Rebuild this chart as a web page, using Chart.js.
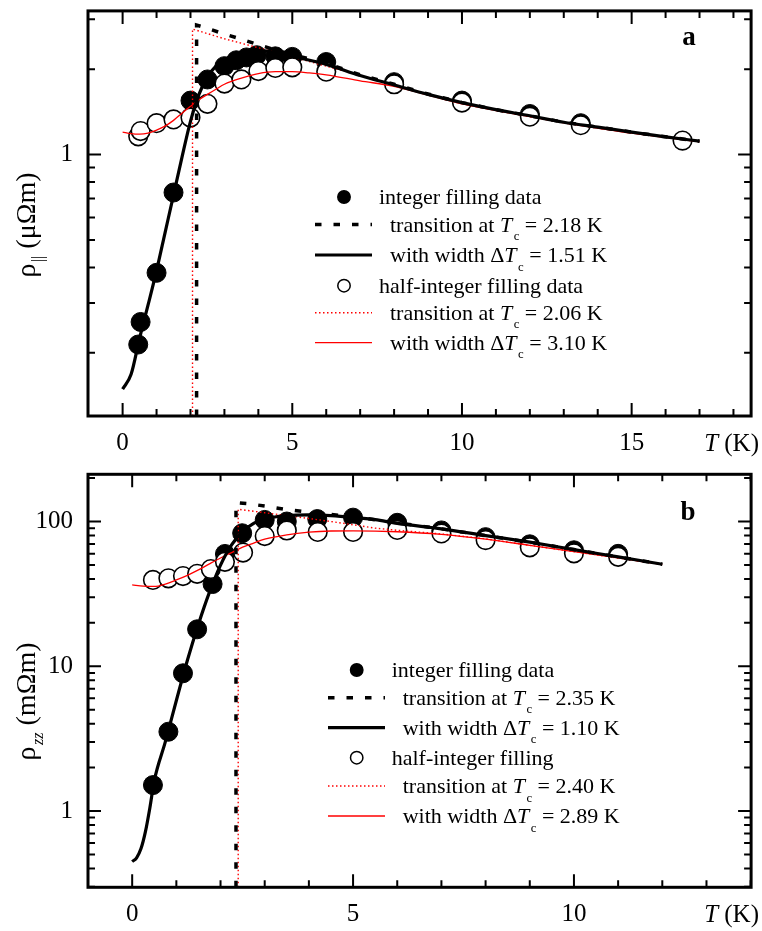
<!DOCTYPE html>
<html>
<head>
<meta charset="utf-8">
<script src="https://cdn.jsdelivr.net/npm/chart.js@4.4.1/dist/chart.umd.min.js"></script>
<style>
  html, body { margin: 0; padding: 0; background: #fff; }
  canvas { position: absolute; left: 0; }
  #chartA { top: 0; }
  #chartB { top: 462px; }
</style>
</head>
<body>
<canvas id="chartA" width="762" height="462"></canvas>
<canvas id="chartB" width="762" height="469"></canvas>
<script>
/* ===== panel a : rho_par (µΩm) vs T (K) ===== */
const aIntT    = [0.46, 0.53, 1.0, 1.5, 2.0, 2.5, 3.0, 3.35, 3.65, 3.95, 4.5, 5.0, 6.0, 8, 10, 12, 13.5];
const aIntRho  = [0.214, 0.257, 0.383, 0.735, 1.55, 1.84, 2.05, 2.15, 2.20, 2.24, 2.22, 2.21, 2.12, 1.80, 1.55, 1.39, 1.29];
const aHalfT   = [0.46, 0.53, 1.0, 1.5, 2.0, 2.5, 3.0, 3.5, 4.0, 4.5, 5.0, 6.0, 8, 10, 12, 13.5, 16.5];
const aHalfRho = [1.16, 1.21, 1.29, 1.33, 1.35, 1.51, 1.78, 1.84, 1.97, 2.02, 2.03, 1.96, 1.77, 1.525, 1.36, 1.27, 1.12];

// integer filling: step at Tc and fit with width
const aIntStepT   = [2.18, 2.18, 2.4, 3.0, 3.5, 4.0, 4.5, 5.0, 6, 7, 8, 9, 10, 11, 12, 13, 14, 15, 16, 17];
const aIntStepRho = [0.1198, 2.86, 2.81, 2.66, 2.55, 2.44, 2.34, 2.25, 2.10, 1.91, 1.77, 1.635, 1.525, 1.44, 1.37, 1.30, 1.25, 1.20, 1.155, 1.115];
const aIntFitT    = [0, 0.25, 0.5, 0.75, 1.0, 1.25, 1.5, 1.75, 2.0, 2.25, 2.5, 2.75, 3.0, 3.5, 4.0, 4.5, 5.0, 6, 7, 8, 9, 10, 11, 12, 13, 14, 15, 16, 17];
const aIntFitRho  = [0.149, 0.168, 0.225, 0.295, 0.39, 0.53, 0.72, 0.98, 1.31, 1.63, 1.88, 2.05, 2.16, 2.29, 2.33, 2.29, 2.22, 2.08, 1.90, 1.76, 1.63, 1.525, 1.44, 1.37, 1.30, 1.25, 1.20, 1.155, 1.115];

// half-integer filling: step at Tc and fit with width
const aHalfStepT   = [2.06, 2.06, 3.0, 4.0, 5.0, 6.0, 7.0, 8, 10, 12, 14, 17];
const aHalfStepRho = [0.1198, 2.77, 2.56, 2.38, 2.21, 2.05, 1.90, 1.76, 1.51, 1.36, 1.24, 1.11];
const aHalfFitT    = [0, 0.25, 0.5, 0.75, 1.0, 1.25, 1.5, 1.75, 2.0, 2.25, 2.5, 2.75, 3.0, 3.5, 4.0, 4.5, 5.0, 5.5, 6, 7, 8, 9, 10, 11, 12, 13, 14, 15, 16, 17];
const aHalfFitRho  = [1.20, 1.185, 1.18, 1.19, 1.22, 1.26, 1.32, 1.40, 1.48, 1.56, 1.63, 1.70, 1.77, 1.86, 1.93, 1.96, 1.96, 1.94, 1.91, 1.82, 1.74, 1.62, 1.51, 1.43, 1.36, 1.295, 1.24, 1.19, 1.15, 1.11];

const aXMajor = [0, 5, 10, 15];
const aXMinor = [1, 2, 3, 4, 6, 7, 8, 9, 11, 12, 13, 14, 16, 17, 18];
const aYMajor = [1];
const aYMinor = [0.2, 0.3, 0.4, 0.5, 0.6, 0.7, 0.8, 0.9, 2, 3];

/* ===== panel b : rho_zz (mΩm) vs T (K) ===== */
const bIntT    = [0.47, 0.82, 1.15, 1.47, 1.82, 2.1, 2.49, 3.0, 3.5, 4.19, 5.0, 6, 7, 8, 9, 10, 11];
const bIntRho  = [1.51, 3.53, 8.94, 18.0, 37.0, 59.7, 83, 102.6, 100, 104, 106.4, 98, 86.8, 78.0, 69.6, 63.3, 59.8];
const bHalfT   = [0.47, 0.82, 1.15, 1.47, 1.78, 2.1, 2.51, 3.0, 3.5, 4.2, 5.0, 6, 7, 8, 9, 10, 11];
const bHalfRho = [39.5, 40.5, 42, 43.5, 46.9, 52.7, 61.0, 79.4, 86.7, 84.8, 84.8, 87.5, 82.7, 74.4, 66.3, 60.3, 57];

const bIntStepT   = [2.35, 2.35, 2.6, 3.0, 3.5, 4.0, 4.5, 5, 6, 7, 8, 9, 10, 11, 12];
const bIntStepRho = [0.297, 135, 133, 128, 121, 116, 112, 108, 98, 89, 80, 72, 64, 57, 50.7];
const bIntFitT    = [0, 0.1, 0.2, 0.3, 0.4, 0.5, 0.75, 1.0, 1.25, 1.5, 1.75, 2.0, 2.25, 2.5, 2.75, 3.0, 3.5, 4, 4.5, 5, 5.5, 6, 7, 8, 9, 10, 11, 12];
const bIntFitRho  = [0.447, 0.475, 0.55, 0.72, 1.05, 1.62, 3.0, 5.8, 11, 19.5, 32.5, 50, 69, 85, 97, 104, 110, 111, 110, 107, 103, 97, 89, 80, 72, 64, 57, 50.7];

const bHalfStepT   = [2.40, 2.40, 3.0, 3.5, 4.0, 4.5, 5.0, 5.5, 6, 7, 8, 9, 10, 11, 12];
const bHalfStepRho = [0.297, 121.6, 115, 110, 105, 100, 95, 90, 87, 82, 76, 68.5, 62, 56, 50.5];
const bHalfFitT    = [0, 0.25, 0.5, 0.75, 1.0, 1.25, 1.5, 1.75, 2.0, 2.25, 2.5, 2.75, 3.0, 3.5, 4.0, 4.5, 5.0, 6, 7, 8, 9, 10, 11, 12];
const bHalfFitRho  = [36.5, 35.8, 35.6, 37, 39.5, 42.5, 46.3, 51, 56, 61, 66.5, 71, 75.5, 81, 84.5, 86, 86.2, 85, 81.5, 75.5, 68.5, 62, 56, 50.5];

const bXMajor = [0, 5, 10];
const bXMinor = [1, 2, 3, 4, 6, 7, 8, 9, 11, 12, 13, 14];
const bYMajor = [1, 10, 100];
const bYMinor = [0.3, 0.4, 0.5, 0.6, 0.7, 0.8, 0.9, 2, 3, 4, 5, 6, 7, 8, 9, 20, 30, 40, 50, 60, 70, 80, 90, 200];

const FONT = '"Liberation Serif", "Times New Roman", serif';
Chart.defaults.font.family = FONT;
Chart.defaults.color = '#000';

function pts(xs, ys) { return xs.map((x, i) => ({ x: x, y: ys[i] })); }

// draw text made of parts: n = normal, i = italic, s = subscript, si = italic subscript
function rich(ctx, parts, x, y, size, drop, measureOnly) {
  let cx = x;
  parts.forEach(([txt, st]) => {
    const sub = st[0] === 's';
    const fs = sub ? size * 0.58 : size;
    ctx.font = (st.includes('i') ? 'italic ' : '') + fs + 'px ' + FONT;
    if (sub) cx += 1.5;
    if (!measureOnly) ctx.fillText(txt, cx, y + (sub ? size * drop : 0));
    cx += ctx.measureText(txt).width;
  });
  return cx - x;
}

const decor = {
  id: 'panelDecor',
  afterDraw(chart, args, o) {
    const { ctx, chartArea: a, scales: { x, y } } = chart;
    ctx.save();
    ctx.strokeStyle = '#000';
    ctx.fillStyle = '#000';

    // inward ticks on all four sides
    ctx.lineWidth = 2;
    ctx.beginPath();
    x.ticks.forEach(t => {
      const px = x.getPixelForValue(t.value);
      const len = o.xMajor.includes(t.value) ? 13 : 7;
      ctx.moveTo(px, a.bottom); ctx.lineTo(px, a.bottom - len);
      ctx.moveTo(px, a.top); ctx.lineTo(px, a.top + len);
    });
    y.ticks.forEach(t => {
      const py = y.getPixelForValue(t.value);
      const len = o.yMajor.includes(t.value) ? 13 : 7;
      ctx.moveTo(a.left, py); ctx.lineTo(a.left + len, py);
      ctx.moveTo(a.right, py); ctx.lineTo(a.right - len, py);
    });
    ctx.stroke();

    // frame
    ctx.lineWidth = 3;
    ctx.strokeRect(a.left, a.top, a.right - a.left, a.bottom - a.top);

    // panel letter
    ctx.font = 'bold 27px ' + FONT;
    ctx.textAlign = 'center';
    ctx.textBaseline = 'alphabetic';
    ctx.fillText(o.letter, o.letterX, o.letterY);

    // x title  T (K)
    ctx.textAlign = 'left';
    const xt = [['T', 'i'], [' (K)', 'n']];
    const w = rich(ctx, xt, 0, 0, 25, 0, true);
    rich(ctx, xt, 759 - w, a.bottom + 35, 25, 0);

    // y title, rotated
    ctx.save();
    ctx.translate(35, o.yTitleY);
    ctx.rotate(-Math.PI / 2);
    const tw = rich(ctx, o.yTitle, 0, 0, 28, 0.3, true);
    rich(ctx, o.yTitle, -tw / 2, 0, 28, 0.3);
    ctx.restore();

    // legend
    const L = o.legend;
    L.rows.forEach((r, i) => {
      const ry = L.y[i];
      ctx.setLineDash([]);
      if (r.mark === 'filled' || r.mark === 'open') {
        ctx.beginPath();
        ctx.arc(L.cx, ry, 6.2, 0, Math.PI * 2);
        ctx.fillStyle = r.mark === 'filled' ? '#000' : '#fff';
        ctx.fill();
        ctx.lineWidth = 1.5;
        ctx.strokeStyle = '#000';
        ctx.stroke();
      } else {
        const s = o.styles[r.mark];
        ctx.strokeStyle = s.color;
        ctx.lineWidth = s.width;
        ctx.setLineDash(s.dash);
        ctx.beginPath();
        ctx.moveTo(L.x0, ry); ctx.lineTo(L.x1, ry);
        ctx.stroke();
      }
      ctx.setLineDash([]);
      ctx.fillStyle = '#000';
      const tx = (r.mark === 'filled' || r.mark === 'open') ? L.tx0 : L.tx1;
      rich(ctx, r.parts, tx, ry + 7, 22, 0.39);
    });
    ctx.restore();
  }
};

const lineStyles = {
  dash:  { color: '#000', width: 3.5, dash: [6.5, 12] },
  solid: { color: '#000', width: 3.2, dash: [] },
  rdot:  { color: '#ff0000', width: 1.4, dash: [1.5, 2.5] },
  rsolid:{ color: '#ff0000', width: 1.3, dash: [] }
};

function lineSet(data, st, smooth) {
  const s = lineStyles[st];
  return {
    data: data, showLine: true, pointRadius: 0, borderColor: s.color, borderWidth: s.width,
    borderDash: s.dash, tension: 0, cubicInterpolationMode: smooth ? 'monotone' : 'default',
    order: 0
  };
}

function makeChart(id, p) {
  const datasets = [
    lineSet(pts(p.intFitT, p.intFitRho), 'solid', true),
    lineSet(pts(p.intStepT, p.intStepRho), 'dash', false),
    lineSet(pts(p.halfFitT, p.halfFitRho), 'rsolid', true),
    lineSet(pts(p.halfStepT, p.halfStepRho), 'rdot', false),
    { data: pts(p.halfT, p.halfRho), pointRadius: 9.3, borderWidth: 1.6,
      pointBackgroundColor: '#fff', pointBorderColor: '#000', order: 1 },
    { data: pts(p.intT, p.intRho), pointRadius: 9.5, borderWidth: 1,
      pointBackgroundColor: '#000', pointBorderColor: '#000', order: 2 }
  ];
  return new Chart(document.getElementById(id), {
    type: 'scatter',
    data: { datasets: datasets },
    options: {
      responsive: false,
      animation: false,
      events: [],
      // right padding < 0 pushes the right frame just past the canvas edge, as in the original
      layout: { padding: { top: p.padTop, left: 0, right: -2, bottom: 0 } },
      plugins: {
        legend: { display: false },
        tooltip: { enabled: false },
        panelDecor: p.decor
      },
      scales: {
        x: {
          type: 'linear', min: p.xMin, max: p.xMax,
          grid: { display: false, drawTicks: false },
          border: { display: false },
          afterBuildTicks: s => {
            s.ticks = p.xMajor.concat(p.xMinor).sort((m, n) => m - n).map(v => ({ value: v }));
          },
          ticks: {
            autoSkip: false, maxRotation: 0, padding: 12, font: { size: 25 }, color: '#000',
            callback: v => p.xMajor.includes(v) ? String(v) : ''
          },
          afterFit: s => { s.height = p.xAxisH; s.paddingLeft = 0; s.paddingRight = 0; }
        },
        y: {
          type: 'logarithmic', min: p.yMin, max: p.yMax,
          grid: { display: false, drawTicks: false },
          border: { display: false },
          afterBuildTicks: s => {
            s.ticks = p.yMajor.concat(p.yMinor).sort((m, n) => m - n).map(v => ({ value: v }));
          },
          ticks: {
            autoSkip: false, padding: 15, font: { size: 25 }, color: '#000',
            callback: v => p.yMajor.includes(v) ? String(v) : ''
          },
          afterFit: s => { s.width = 88; s.paddingTop = 0; s.paddingBottom = 0; }
        }
      }
    },
    plugins: [decor]
  });
}

makeChart('chartA', {
  intT: aIntT, intRho: aIntRho, halfT: aHalfT, halfRho: aHalfRho,
  intStepT: aIntStepT, intStepRho: aIntStepRho, intFitT: aIntFitT, intFitRho: aIntFitRho,
  halfStepT: aHalfStepT, halfStepRho: aHalfStepRho, halfFitT: aHalfFitT, halfFitRho: aHalfFitRho,
  xMin: -1.02, xMax: 18.52, yMin: 0.1198, yMax: 3.21,
  xMajor: aXMajor, xMinor: aXMinor, yMajor: aYMajor, yMinor: aYMinor,
  padTop: 3.3, xAxisH: 46,
  decor: {
    xMajor: aXMajor, yMajor: aYMajor, styles: lineStyles,
    letter: 'a', letterX: 689, letterY: 45,
    yTitleY: 225,
    yTitle: [['ρ', 'n'], ['||', 's'], [' (μΩm)', 'n']],
    legend: {
      cx: 344, x0: 315, x1: 372, tx0: 379, tx1: 390,
      y: [197, 224.5, 255, 285.7, 312.7, 342.7],
      rows: [
        { mark: 'filled', parts: [['integer filling data', 'n']] },
        { mark: 'dash',   parts: [['transition at ', 'n'], ['T', 'i'], ['c', 's'], [' = 2.18 K', 'n']] },
        { mark: 'solid',  parts: [['with width Δ', 'n'], ['T', 'i'], ['c', 's'], [' = 1.51 K', 'n']] },
        { mark: 'open',   parts: [['half-integer filling data', 'n']] },
        { mark: 'rdot',   parts: [['transition at ', 'n'], ['T', 'i'], ['c', 's'], [' = 2.06 K', 'n']] },
        { mark: 'rsolid', parts: [['with width Δ', 'n'], ['T', 'i'], ['c', 's'], [' = 3.10 K', 'n']] }
      ]
    }
  }
});

makeChart('chartB', {
  intT: bIntT, intRho: bIntRho, halfT: bHalfT, halfRho: bHalfRho,
  intStepT: bIntStepT, intStepRho: bIntStepRho, intFitT: bIntFitT, intFitRho: bIntFitRho,
  halfStepT: bHalfStepT, halfStepRho: bHalfStepRho, halfFitT: bHalfFitT, halfFitRho: bHalfFitRho,
  xMin: -1.0, xMax: 14.01, yMin: 0.297, yMax: 212,
  xMajor: bXMajor, xMinor: bXMinor, yMajor: bYMajor, yMinor: bYMinor,
  padTop: 12.3, xAxisH: 43.7,
  decor: {
    xMajor: bXMajor, yMajor: bYMajor, styles: lineStyles,
    letter: 'b', letterX: 688, letterY: 58,
    yTitleY: 239.5,
    yTitle: [['ρ', 'n'], ['zz', 'si'], [' (mΩm)', 'n']],
    legend: {
      cx: 356.7, x0: 328, x1: 385, tx0: 391.7, tx1: 402.7,
      y: [208, 235.7, 265.7, 295.7, 324, 354],
      rows: [
        { mark: 'filled', parts: [['integer filling data', 'n']] },
        { mark: 'dash',   parts: [['transition at ', 'n'], ['T', 'i'], ['c', 's'], [' = 2.35 K', 'n']] },
        { mark: 'solid',  parts: [['with width Δ', 'n'], ['T', 'i'], ['c', 's'], [' = 1.10 K', 'n']] },
        { mark: 'open',   parts: [['half-integer filling', 'n']] },
        { mark: 'rdot',   parts: [['transition at ', 'n'], ['T', 'i'], ['c', 's'], [' = 2.40 K', 'n']] },
        { mark: 'rsolid', parts: [['with width Δ', 'n'], ['T', 'i'], ['c', 's'], [' = 2.89 K', 'n']] }
      ]
    }
  }
});
</script>
</body>
</html>
